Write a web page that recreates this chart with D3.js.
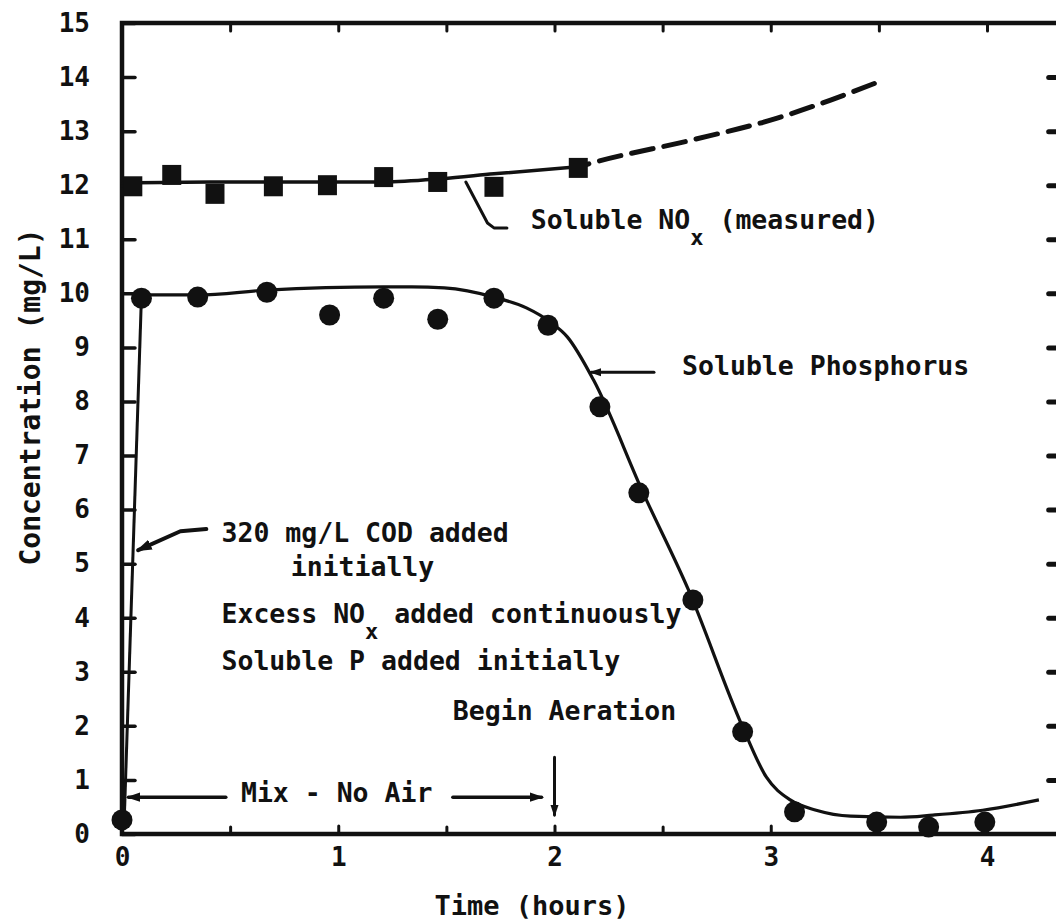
<!DOCTYPE html>
<html><head><meta charset="utf-8">
<script src="https://cdn.jsdelivr.net/npm/d3@7"></script>
<style>
body{margin:0;background:#fff;}
svg{display:block;}
text{font-family:"DejaVu Sans Mono",monospace;font-weight:bold;fill:#111;}
.tick text{font-size:26px;}
.ann{font-size:26.5px;}
.title{font-size:27px;}
</style>
</head><body>
<svg id="chart" width="1056" height="923"></svg>
<script>
// ---- data ----
const noxTime  = [0.05, 0.23, 0.43, 0.70, 0.95, 1.21, 1.46, 1.72, 2.11];
const noxValue = [11.98, 12.19, 11.84, 11.98, 12.0, 12.15, 12.06, 11.97, 12.32];
const noxFitTime  = [0.0, 0.41, 1.21, 1.48, 1.72, 2.11];
const noxFitValue = [12.04, 12.06, 12.06, 12.12, 12.21, 12.34];
const noxDashTime  = [2.11, 2.19, 2.64, 3.03, 3.28, 3.51];
const noxDashValue = [12.34, 12.43, 12.84, 13.24, 13.58, 13.93];
const pTime  = [0.0, 0.09, 0.35, 0.67, 0.96, 1.21, 1.46, 1.72, 1.97, 2.21, 2.39, 2.64, 2.87, 3.11, 3.49, 3.73, 3.99];
const pValue = [0.26, 9.91, 9.93, 10.02, 9.6, 9.91, 9.52, 9.91, 9.41, 7.9, 6.31, 4.33, 1.89, 0.41, 0.22, 0.13, 0.22];
const pRiseTime  = [0.01, 0.09];
const pRiseValue = [0.22, 9.95];
const pFitTime  = [0.09, 0.35, 0.67, 1.21, 1.34, 1.49, 1.72, 1.87, 1.98, 2.06, 2.18, 2.41, 2.62, 2.87, 2.98, 3.09, 3.21, 3.37, 3.6, 3.75, 3.98, 4.24];
const pFitValue = [9.97, 9.97, 10.06, 10.12, 10.12, 10.1, 9.93, 9.73, 9.47, 9.19, 8.4, 6.31, 4.51, 1.98, 1.05, 0.63, 0.44, 0.33, 0.31, 0.35, 0.44, 0.63];
const xMajorTicks = [0, 1, 2, 3, 4];
const xMinorTicks = [0.5, 1.5, 2.5, 3.5];
const yTicks = [0,1,2,3,4,5,6,7,8,9,10,11,12,13,14,15];
const yRightTicks = [1,2,3,4,5,6,7,8,9,10,11,12,13,14];
const xTitle = "Time (hours)";
const yTitle = "Concentration (mg/L)";

// ---- scales ----
const svg = d3.select("#chart");
const x = d3.scaleLinear().domain([0, 4]).range([122, 987]);
const y = d3.scaleLinear().domain([0, 15]).range([834, 23]);
const xEnd = x(4.35);
const ink = "#111";

// frame
svg.append("rect")
  .attr("x", x(0)).attr("y", y(15))
  .attr("width", xEnd - x(0)).attr("height", y(0) - y(15))
  .attr("fill", "none").attr("stroke", ink).attr("stroke-width", 4.5);

function styleAxis(g, w) {
  g.select(".domain").remove();
  g.attr("font-family", null).attr("font-size", null);
  g.selectAll(".tick line").attr("stroke", ink).attr("stroke-width", w).attr("stroke-linecap", "round");
}
svg.append("g").attr("transform", `translate(${x(0)},0)`)
  .call(d3.axisLeft(y).tickValues(yTicks).tickSize(-13).tickPadding(32).tickFormat(d3.format("d")))
  .call(g => styleAxis(g, 3.5));
svg.append("g").attr("transform", `translate(${xEnd},0)`)
  .call(d3.axisRight(y).tickValues(yRightTicks).tickSize(-14).tickFormat(""))
  .call(g => styleAxis(g, 5));
svg.append("g").attr("transform", `translate(0,${y(0)})`)
  .call(d3.axisBottom(x).tickValues(xMajorTicks).tickSize(-8).tickPadding(14).tickFormat(d3.format("d")))
  .call(g => styleAxis(g, 3));
svg.append("g").attr("transform", `translate(0,${y(0)})`)
  .call(d3.axisBottom(x).tickValues(xMinorTicks).tickSize(-7).tickFormat(""))
  .call(g => styleAxis(g, 3));
svg.append("g").attr("transform", `translate(0,${y(15)})`)
  .call(d3.axisTop(x).tickValues(xMajorTicks.concat(xMinorTicks).filter(d => d > 0)).tickSize(-8).tickFormat(""))
  .call(g => styleAxis(g, 3));

// titles
svg.append("text").attr("class", "title").attr("x", 532).attr("y", 915)
  .attr("text-anchor", "middle").text(xTitle);
svg.append("text").attr("class", "title").attr("transform", "translate(40,397) rotate(-90)")
  .attr("text-anchor", "middle").style("font-size", "28px").text(yTitle);

// arrow markers
const defs = svg.append("defs");
defs.append("marker").attr("id", "arr").attr("viewBox", "0 -5 12 10")
  .attr("refX", 10).attr("refY", 0).attr("markerWidth", 4).attr("markerHeight", 3.5)
  .attr("markerUnits", "strokeWidth").attr("orient", "auto")
  .append("path").attr("d", "M0,-4 L12,0 L0,4 Z").attr("fill", ink);

// lines
const zip = (t, v) => t.map((d, i) => [d, v[i]]);
const lin = d3.line().x(d => x(d[0])).y(d => y(d[1]));
const smooth = d3.line().curve(d3.curveMonotoneX).x(d => x(d[0])).y(d => y(d[1]));

svg.append("path").datum(zip(pRiseTime, pRiseValue)).attr("d", lin)
  .attr("fill", "none").attr("stroke", ink).attr("stroke-width", 3);
svg.append("path").datum(zip(pFitTime, pFitValue)).attr("d", smooth)
  .attr("fill", "none").attr("stroke", ink).attr("stroke-width", 3.2);
svg.append("path").datum(zip(noxFitTime, noxFitValue)).attr("d", smooth)
  .attr("fill", "none").attr("stroke", ink).attr("stroke-width", 3.5);
svg.append("path").datum(zip(noxDashTime, noxDashValue)).attr("d", smooth)
  .attr("fill", "none").attr("stroke", ink).attr("stroke-width", 5)
  .attr("stroke-dasharray", "22,11").attr("stroke-dashoffset", -22).attr("stroke-linecap", "round");

// markers
svg.append("g").selectAll("circle").data(zip(pTime, pValue)).join("circle")
  .attr("cx", d => x(d[0])).attr("cy", d => y(d[1])).attr("r", 10.5).attr("fill", ink);
svg.append("g").selectAll("rect").data(zip(noxTime, noxValue)).join("rect")
  .attr("x", d => x(d[0]) - 9.5).attr("y", d => y(d[1]) - 10).attr("width", 19).attr("height", 20).attr("fill", ink);

// annotations (positions in data units)
function leader(pts, arrow, w) {
  const p = svg.append("path").datum(pts).attr("d", lin)
    .attr("fill", "none").attr("stroke", ink).attr("stroke-width", w || 3.5)
    .attr("stroke-linejoin", "round").attr("stroke-linecap", "round");
  if (arrow) p.attr("marker-end", "url(#arr)");
}
leader([[1.59, 12.06], [1.69, 11.30], [1.72, 11.21], [1.78, 11.21]], false, 3);
leader([[2.46, 8.54], [2.17, 8.54]], true, 3);
leader([[0.39, 5.64], [0.27, 5.60], [0.075, 5.25]], true, 4);
leader([[2.0, 1.42], [2.0, 0.35]], true, 3);
leader([[0.48, 0.68], [0.03, 0.68]], true, 3.5);
leader([[1.53, 0.68], [1.94, 0.68]], true, 3.5);

function label(t, v, parts) {
  const tx = svg.append("text").attr("class", "ann").attr("x", x(t)).attr("y", y(v));
  parts.forEach(p => {
    const s = tx.append("tspan").text(p.s);
    if (p.dy) s.attr("dy", p.dy);
    if (p.sub) s.style("font-size", "22px");
  });
}
label(1.89, 11.19, [{s: "Soluble NO"}, {s: "x", sub: true, dy: 16}, {s: " (measured)", dy: -16}]);
label(2.59, 8.49, [{s: "Soluble Phosphorus"}]);
label(0.46, 5.40, [{s: "320 mg/L COD added"}]);
label(0.78, 4.77, [{s: "initially"}]);
label(0.46, 3.90, [{s: "Excess NO"}, {s: "x", sub: true, dy: 16}, {s: " added continuously", dy: -16}]);
label(0.46, 3.03, [{s: "Soluble P added initially"}]);
label(1.53, 2.11, [{s: "Begin Aeration"}]);
label(0.55, 0.59, [{s: "Mix - No Air"}]);
</script>
</body></html>
